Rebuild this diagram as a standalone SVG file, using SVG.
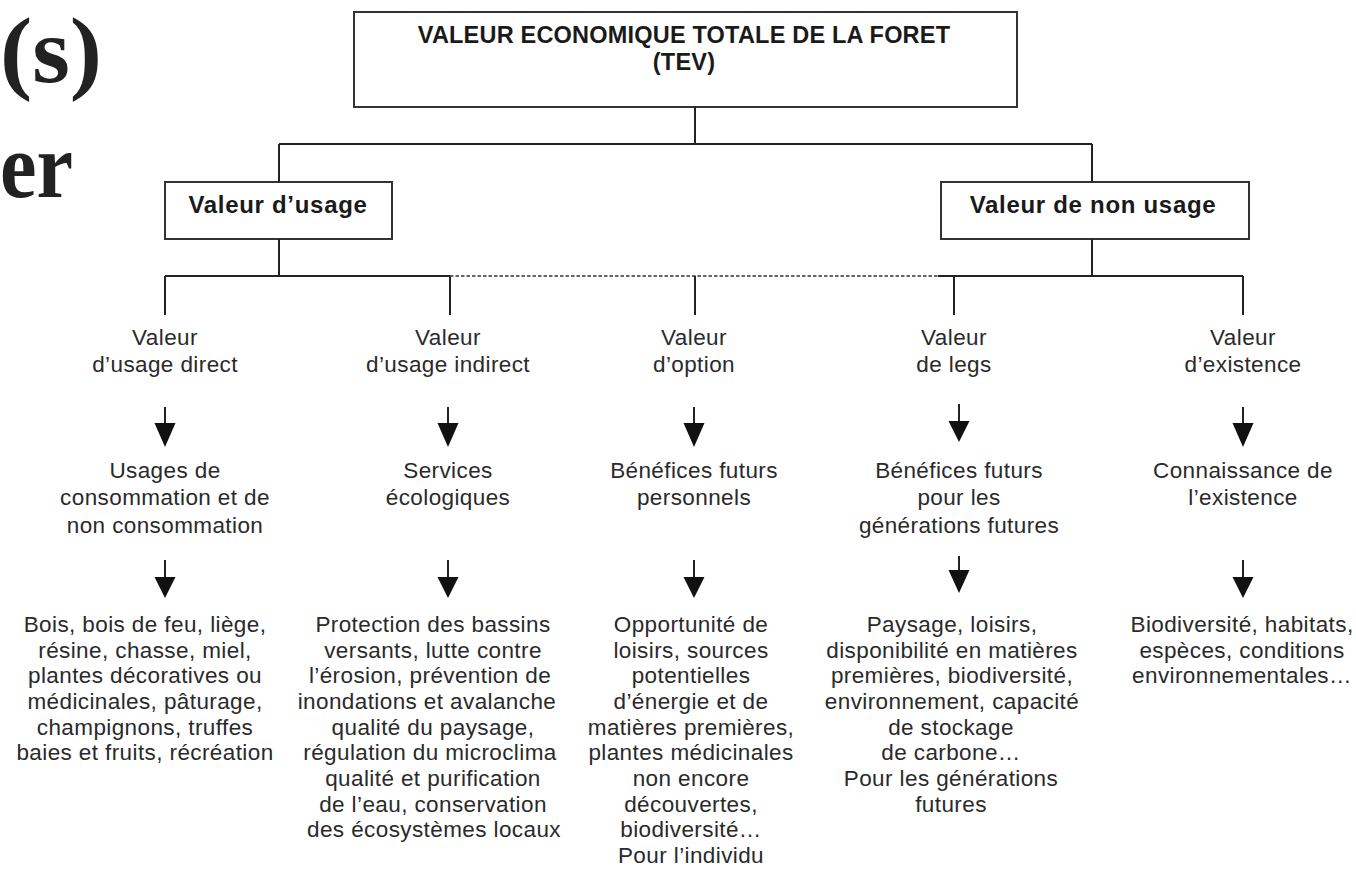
<svg xmlns="http://www.w3.org/2000/svg" width="1356" height="871" viewBox="0 0 1356 871">
<style>
.bg{font-family:"Liberation Serif",serif;font-weight:bold;font-size:94px;fill:#222}
.box{fill:#fff;stroke:#333;stroke-width:2}
.bt{font-family:"Liberation Sans",Arial,sans-serif;font-weight:bold;font-size:24px;letter-spacing:0.7px;fill:#1a1a1a;text-anchor:middle}
.tt{font-size:23.5px;letter-spacing:0.2px}
.t{font-family:"Liberation Sans",Arial,sans-serif;font-size:22.5px;letter-spacing:0.4px;fill:#2a2a2a;text-anchor:middle}
.ln{stroke:#222;stroke-width:2;fill:none}
.dash{stroke:#333;stroke-width:1.6;stroke-dasharray:3.5 2;fill:none}
.ah{fill:#111}
</style>
<text class="bg" x="0" y="82" textLength="102" lengthAdjust="spacingAndGlyphs">(s)</text>
<text class="bg" x="0" y="197" textLength="73" lengthAdjust="spacingAndGlyphs">er</text>

<g id="tev">
<rect class="box" x="354" y="12" width="663" height="95"/>
<text class="bt tt" x="684" y="43">VALEUR ECONOMIQUE TOTALE DE LA FORET</text>
<text class="bt tt" x="684" y="70">(TEV)</text>
</g>
<g id="usage">
<rect class="box" x="165" y="182" width="227" height="57"/>
<text class="bt" x="278" y="213">Valeur d’usage</text>
</g>
<g id="nonusage">
<rect class="box" x="941" y="182" width="308" height="57"/>
<text class="bt" x="1093" y="213">Valeur de non usage</text>
</g>

<g id="connectors">
<path class="ln" d="M695 107V144M279 144H1092M279 144V182M1092 144V182M279 239V276M1092 239V276M165 276H450M938 276H1243M165 276V315M450 276V315M695 276V315M954 276V315M1243 276V315"/>
<path class="dash" d="M450 276H938"/>
<path class="ln" d="M165 407V425M448 407V425M694 407V425M959 404V425M1243 407V425"/>
<path class="ah" d="M154.5 423H175.5L165 447ZM437.5 423H458.5L448 447ZM683.5 423H704.5L694 447ZM948.5 421H969.5L959 442ZM1232.5 423H1253.5L1243 447Z"/>
<path class="ln" d="M165 560V579M448 560V579M694 560V579M959 556V572M1243 560V579"/>
<path class="ah" d="M154.5 577H175.5L165 598ZM437.5 577H458.5L448 598ZM683.5 577H704.5L694 598ZM948.5 570H969.5L959 593ZM1232.5 577H1253.5L1243 598Z"/>
</g>

<g id="col1">
<text class="t" x="165" y="345">Valeur</text>
<text class="t" x="165" y="372">d’usage direct</text>
<text class="t" x="165" y="478">Usages de</text>
<text class="t" x="165" y="505">consommation et de</text>
<text class="t" x="165" y="533">non consommation</text>
<text class="t" x="145" y="632">Bois, bois de feu, liège,</text>
<text class="t" x="145" y="658">résine, chasse, miel,</text>
<text class="t" x="145" y="683">plantes décoratives ou</text>
<text class="t" x="145" y="709">médicinales, pâturage,</text>
<text class="t" x="145" y="735">champignons, truffes</text>
<text class="t" x="145" y="760">baies et fruits, récréation</text>
</g>
<g id="col2">
<text class="t" x="448" y="345">Valeur</text>
<text class="t" x="448" y="372">d’usage indirect</text>
<text class="t" x="448" y="478">Services</text>
<text class="t" x="448" y="505">écologiques</text>
<text class="t" x="433" y="632">Protection des bassins</text>
<text class="t" x="433" y="658">versants, lutte contre</text>
<text class="t" x="430" y="683">l’érosion,  prévention de</text>
<text class="t" x="427" y="709">inondations et avalanche</text>
<text class="t" x="433" y="735">qualité du paysage,</text>
<text class="t" x="430" y="760">régulation du microclima</text>
<text class="t" x="433" y="786">qualité et purification</text>
<text class="t" x="433" y="812">de l’eau, conservation</text>
<text class="t" x="434" y="837">des écosystèmes locaux</text>
</g>
<g id="col3">
<text class="t" x="694" y="345">Valeur</text>
<text class="t" x="694" y="372">d’option</text>
<text class="t" x="694" y="478">Bénéfices futurs</text>
<text class="t" x="694" y="505">personnels</text>
<text class="t" x="691" y="632">Opportunité de</text>
<text class="t" x="691" y="658">loisirs, sources</text>
<text class="t" x="691" y="683">potentielles</text>
<text class="t" x="691" y="709">d’énergie et de</text>
<text class="t" x="691" y="735">matières premières,</text>
<text class="t" x="691" y="760">plantes médicinales</text>
<text class="t" x="691" y="786">non encore</text>
<text class="t" x="691" y="812">découvertes,</text>
<text class="t" x="691" y="837">biodiversité…</text>
<text class="t" x="691" y="863">Pour l’individu</text>
</g>
<g id="col4">
<text class="t" x="954" y="345">Valeur</text>
<text class="t" x="954" y="372">de legs</text>
<text class="t" x="959" y="478">Bénéfices futurs</text>
<text class="t" x="959" y="505">pour les</text>
<text class="t" x="959" y="533">générations futures</text>
<text class="t" x="952" y="632">Paysage, loisirs,</text>
<text class="t" x="952" y="658">disponibilité en matières</text>
<text class="t" x="952" y="683">premières, biodiversité,</text>
<text class="t" x="952" y="709">environnement, capacité</text>
<text class="t" x="951" y="735">de stockage</text>
<text class="t" x="951" y="760">de carbone…</text>
<text class="t" x="951" y="786">Pour les générations</text>
<text class="t" x="951" y="812">futures</text>
</g>
<g id="col5">
<text class="t" x="1243" y="345">Valeur</text>
<text class="t" x="1243" y="372">d’existence</text>
<text class="t" x="1243" y="478">Connaissance de</text>
<text class="t" x="1243" y="505">l’existence</text>
<text class="t" x="1242" y="632">Biodiversité, habitats,</text>
<text class="t" x="1242" y="658">espèces, conditions</text>
<text class="t" x="1242" y="683">environnementales…</text>
</g>
</svg>
